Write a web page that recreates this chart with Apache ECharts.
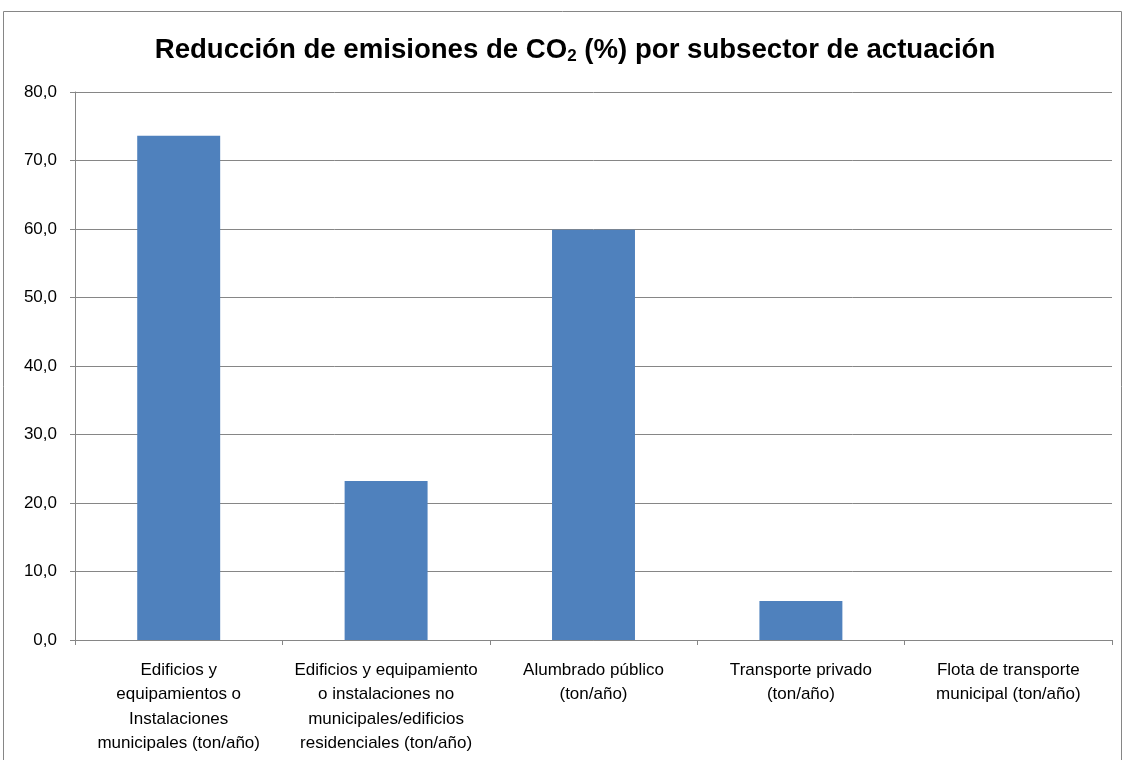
<!DOCTYPE html>
<html>
<head>
<meta charset="utf-8">
<script src="https://cdn.jsdelivr.net/npm/echarts@6/dist/echarts.min.js"></script>
<style>html,body{margin:0;padding:0;background:#fff}#c{width:1124px;height:760px}</style>
</head>
<body>
<div id="c"></div>
<script>
const categories = [
  "Edificios y\nequipamientos o\nInstalaciones\nmunicipales (ton/año)",
  "Edificios y equipamiento\no instalaciones no\nmunicipales/edificios\nresidenciales (ton/año)",
  "Alumbrado público\n(ton/año)",
  "Transporte privado\n(ton/año)",
  "Flota de transporte\nmunicipal (ton/año)"
];
const values = [73.6, 23.2, 59.9, 5.7, 0];
const yMin = 0, yMax = 80, yStep = 10;

const chart = echarts.init(document.getElementById('c'));
const font = '"Liberation Sans", sans-serif';
chart.setOption({
  animation: false,
  backgroundColor: '#fff',
  title: {
    text: '{t|Reducción de emisiones de CO}{s|2}{t| (%) por subsector de actuación}',
    left: 570,
    textAlign: 'center',
    top: 31,
    textStyle: {
      rich: {
        t: { fontFamily: font, fontWeight: 'bold', fontSize: 27.6, color: '#000' },
        s: { fontFamily: font, fontWeight: 'bold', fontSize: 17, color: '#000', verticalAlign: 'bottom', padding: [12, 0, 0, 0] }
      }
    }
  },
  graphic: [{
    type: 'rect',
    shape: { x: 3.5, y: 11.5, width: 1118, height: 760 },
    style: { fill: 'none', stroke: '#868686', lineWidth: 1 },
    silent: true
  }],
  grid: { left: 75, right: 12, top: 92, bottom: 120, containLabel: false },
  xAxis: {
    type: 'category',
    data: categories,
    axisLine: { lineStyle: { color: '#868686', width: 1 } },
    axisTick: { show: true, length: 5, lineStyle: { color: '#868686' } },
    axisLabel: {
      interval: 0,
      margin: 18,
      color: '#000',
      fontFamily: font,
      fontSize: 17,
      lineHeight: 24.5
    }
  },
  yAxis: {
    type: 'value',
    min: yMin, max: yMax, interval: yStep,
    axisLine: { show: true, lineStyle: { color: '#868686' } },
    axisTick: { show: true, length: 5, lineStyle: { color: '#868686' } },
    splitLine: { lineStyle: { color: '#868686', width: 1 } },
    axisLabel: {
      margin: 18,
      color: '#000',
      fontFamily: font,
      fontSize: 17,
      formatter: v => v.toFixed(1).replace('.', ',')
    }
  },
  series: [{
    type: 'bar',
    data: values,
    barCategoryGap: '60%',
    itemStyle: { color: '#4F81BD' }
  }]
});
</script>
</body>
</html>
